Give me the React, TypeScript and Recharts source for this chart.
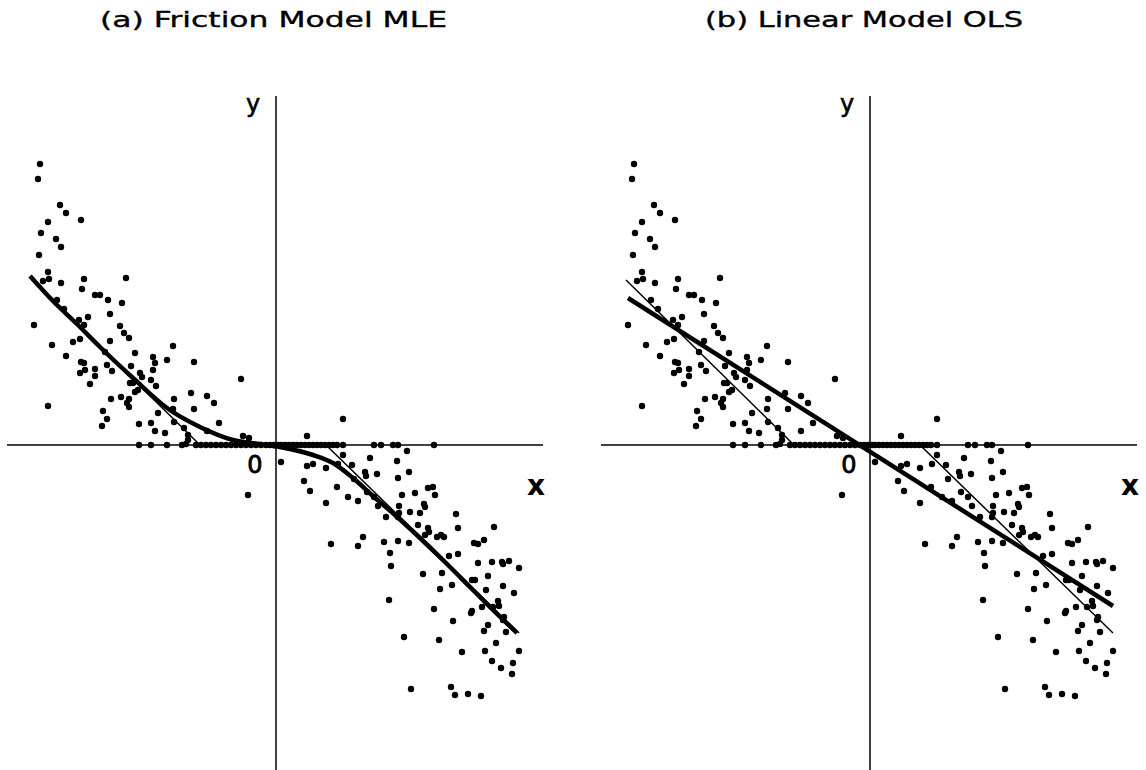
import React from 'react';
import {
  ComposedChart,
  Scatter,
  Line,
  XAxis,
  YAxis,
  ReferenceLine,
} from 'recharts';

const negPoints: [number, number][] = [
  [-2.36, 2.81], [-2.38, 2.66], [-2.16, 2.4], [-2.1, 2.32], [-2.28, 2.23],
  [-1.95, 2.25], [-2.35, 2.12], [-2.2, 2.06], [-2.15, 1.98], [-2.37, 1.9],
  [-2.28, 1.73], [-2.33, 1.64], [-2.27, 1.66], [-2.15, 1.62], [-1.92, 1.66],
  [-1.94, 1.56], [-1.5, 1.67], [-1.81, 1.5], [-1.76, 1.5], [-1.68, 1.45],
  [-1.54, 1.42], [-2.19, 1.45], [-2.12, 1.36], [-2.42, 1.2], [-1.97, 1.25],
  [-1.88, 1.28], [-1.92, 1.2], [-1.66, 1.31], [-1.56, 1.19], [-1.52, 1.12],
  [-1.47, 1.07], [-2.24, 1.0], [-2.03, 1.03], [-1.96, 1.06], [-2.1, 0.89],
  [-1.66, 1.04], [-1.71, 0.93], [-1.41, 0.92], [-1.03, 0.99], [-1.95, 0.83],
  [-1.92, 0.82], [-1.96, 0.72], [-1.91, 0.75], [-1.81, 0.76], [-1.81, 0.69],
  [-1.86, 0.61], [-1.69, 0.8], [-1.64, 0.74], [-1.45, 0.79], [-1.46, 0.62],
  [-1.43, 0.62], [-1.36, 0.72], [-1.34, 0.68], [-1.38, 0.55], [-1.41, 0.53],
  [-1.23, 0.88], [-1.21, 0.82], [-1.23, 0.75], [-1.09, 0.85], [-0.82, 0.83],
  [-1.25, 0.65], [-1.2, 0.59], [-0.35, 0.66], [-2.28, 0.39], [-1.65, 0.46],
  [-1.55, 0.48], [-1.47, 0.46], [-1.49, 0.42], [-1.47, 0.38], [-1.73, 0.34],
  [-1.69, 0.26], [-1.74, 0.19], [-1.37, 0.21], [-1.25, 0.22], [-1.21, 0.14],
  [-1.18, 0.32], [-1.11, 0.12], [-1.02, 0.46], [-1.03, 0.36], [-1.02, 0.23],
  [-0.85, 0.52], [-0.82, 0.36], [-0.69, 0.49], [-0.62, 0.42], [-0.57, 0.22],
  [-0.69, 0.14], [-0.92, 0.17], [-0.88, 0.1], [-0.88, 0.05], [-0.9, 0.01],
  [-0.33, 0.09], [-0.27, 0.07], [-0.28, -0.5],
];

// observations sitting exactly on y = 0
const zeroX: number[] = [
  -1.37, -1.25, -1.09, -0.94, -0.8, -0.75, -0.7, -0.65, -0.6, -0.55, -0.5,
  -0.45, -0.4, -0.35, -0.3, -0.25, -0.2, -0.15, -0.1, -0.06, -0.02,
  0.02, 0.05, 0.09, 0.13, 0.17, 0.21, 0.25, 0.29, 0.33, 0.37, 0.41, 0.45,
  0.49, 0.53, 0.57, 0.61, 0.67, 0.98, 1.05, 1.17, 1.22, 1.58,
];

const posPoints: [number, number][] = [
  [0.67, 0.26], [0.31, 0.09], [0.05, -0.17], [0.67, -0.1], [0.62, -0.19],
  [0.76, -0.2], [0.31, -0.21], [0.37, -0.19], [0.5, -0.23], [0.89, -0.27],
  [0.9, -0.31], [0.94, -0.13], [1.01, -0.29], [0.78, -0.34], [1.31, -0.06],
  [1.21, -0.16], [1.33, -0.27], [1.22, -0.33], [0.28, -0.36], [0.34, -0.46],
  [0.61, -0.42], [0.91, -0.47], [0.98, -0.52], [0.72, -0.52], [0.82, -0.56],
  [0.5, -0.58], [1.02, -0.61], [1.26, -0.5], [1.39, -0.48], [1.52, -0.43],
  [1.57, -0.42], [1.59, -0.5], [1.48, -0.59], [1.49, -0.62], [1.23, -0.61],
  [1.23, -0.68], [1.22, -0.72], [1.34, -0.67], [1.44, -0.68], [1.1, -0.72],
  [1.42, -0.8], [1.52, -0.83], [1.53, -0.87], [1.49, -0.9], [1.61, -0.92],
  [1.65, -0.9], [1.68, -0.92], [1.8, -0.69], [1.82, -0.83], [2.18, -0.82],
  [0.87, -0.92], [0.82, -1.01], [0.55, -0.99], [1.08, -0.97], [1.22, -0.96],
  [1.33, -0.98], [1.14, -1.08], [1.15, -1.21], [1.73, -1.11], [1.82, -1.09],
  [1.98, -0.98], [2.02, -0.99], [2.08, -0.95], [1.47, -1.29], [1.66, -1.28],
  [1.76, -1.4], [1.64, -1.44], [2.02, -1.18], [2.16, -1.17], [2.26, -1.17],
  [2.27, -1.19], [2.33, -1.16], [2.43, -1.23], [2.12, -1.31], [1.96, -1.35],
  [1.99, -1.35], [2.1, -1.45], [2.27, -1.41], [2.38, -1.48], [2.22, -1.56],
  [2.23, -1.61], [2.06, -1.62], [2.17, -1.62], [1.96, -1.66], [1.95, -1.68],
  [1.58, -1.64], [1.13, -1.55], [1.77, -1.76], [2.28, -1.72], [2.27, -1.75],
  [2.12, -1.8], [2.08, -1.86], [2.3, -1.87], [1.28, -1.92], [1.63, -1.95],
  [2.2, -1.98], [1.86, -2.07], [2.09, -2.06], [2.43, -2.06], [2.16, -2.16],
  [2.25, -2.23], [2.37, -2.18], [2.36, -2.29], [1.35, -2.44], [1.75, -2.42],
  [1.79, -2.5], [1.92, -2.49], [2.05, -2.51],
];

// fitted friction model (thick, panel a)
const mleCurve: [number, number][] = [
  [-2.46, 1.69], [-2.23, 1.44], [-1.99, 1.21], [-1.76, 0.98], [-1.43, 0.67],
  [-1.09, 0.37], [-0.76, 0.18], [-0.43, 0.05], [-0.16, 0.01], [0.04, -0.02],
  [0.37, -0.1], [0.57, -0.18], [0.77, -0.33], [0.97, -0.51], [1.19, -0.7],
  [1.44, -0.93], [1.71, -1.19], [1.94, -1.42], [2.17, -1.65], [2.41, -1.88],
];

// true friction lines (thin, both panels)
const trueLeft: [number, number][] = [[-2.44, 1.65], [-0.76, 0]];
const trueRight: [number, number][] = [[0.5, 0], [2.43, -1.88]];

// OLS fit (thick, panel b)
const olsLine: [number, number][] = [[-2.42, 1.47], [2.43, -1.61]];

const toRows = (pts: [number, number][]) => pts.map(([x, y]) => ({ x, y }));

const points = [
  ...toRows(negPoints),
  ...zeroX.map((x) => ({ x, y: 0 })),
  ...toRows(posPoints),
];

const renderDot = (props: any) => (
  <circle cx={props.cx} cy={props.cy} r={3.2} fill="#000" />
);

const XDOMAIN: [number, number] = [-2.69, 2.67];
const YDOMAIN: [number, number] = [-3.25, 3.49];

interface PanelProps {
  left: number;
  width: number;
  rightMargin: number;
  fit: [number, number][];
  curved: boolean;
}

const Panel: React.FC<PanelProps> = ({ left, width, rightMargin, fit, curved }) => (
  <div style={{ position: 'absolute', left, top: 0 }}>
    <ComposedChart
      width={width}
      height={770}
      margin={{ top: 96, right: rightMargin, bottom: 0, left: 7 }}
    >
      <XAxis type="number" dataKey="x" domain={XDOMAIN} hide allowDataOverflow />
      <YAxis type="number" dataKey="y" domain={YDOMAIN} hide allowDataOverflow />
      <ReferenceLine y={0} stroke="#000" strokeWidth={1.5} />
      <ReferenceLine x={0} stroke="#000" strokeWidth={1.5} />
      <Line
        data={toRows(trueLeft)}
        dataKey="y"
        type="linear"
        stroke="#000"
        strokeWidth={1.5}
        dot={false}
        isAnimationActive={false}
      />
      <Line
        data={toRows(trueRight)}
        dataKey="y"
        type="linear"
        stroke="#000"
        strokeWidth={1.5}
        dot={false}
        isAnimationActive={false}
      />
      <Scatter data={points} shape={renderDot} isAnimationActive={false} />
      <Line
        data={toRows(fit)}
        dataKey="y"
        type={curved ? 'monotone' : 'linear'}
        stroke="#000"
        strokeWidth={4.5}
        dot={false}
        isAnimationActive={false}
      />
    </ComposedChart>
  </div>
);

const textStyle = { fontFamily: 'DejaVu Sans', fill: '#000', stroke: '#000' };

export default function App() {
  return (
    <div
      style={{
        position: 'absolute',
        left: 0,
        top: 0,
        width: 1146,
        height: 770,
        background: '#fff',
        overflow: 'hidden',
      }}
    >
      <Panel left={0} width={573} rightMargin={30} fit={mleCurve} curved />
      <Panel left={594} width={552} rightMargin={9} fit={olsLine} curved={false} />
      <svg
        width={1146}
        height={770}
        style={{ position: 'absolute', left: 0, top: 0, pointerEvents: 'none' }}
      >
        <text
          x={100}
          y={27}
          fontSize={21}
          textLength={347}
          lengthAdjust="spacingAndGlyphs"
          strokeWidth={0.35}
          style={textStyle}
        >
          (a) Friction Model MLE
        </text>
        <text
          x={705}
          y={27}
          fontSize={21}
          textLength={318}
          lengthAdjust="spacingAndGlyphs"
          strokeWidth={0.35}
          style={textStyle}
        >
          (b) Linear Model OLS
        </text>
        {[0, 594].map((dx) => (
          <g key={dx}>
            <text x={253 + dx} y={112} textAnchor="middle" fontSize={24} strokeWidth={0.6} style={textStyle}>
              y
            </text>
            <text x={536 + dx} y={495} textAnchor="middle" fontSize={28} fontWeight="bold" strokeWidth={0} style={textStyle}>
              x
            </text>
            <text x={255 + dx} y={473} textAnchor="middle" fontSize={24} strokeWidth={0.8} style={textStyle}>
              0
            </text>
          </g>
        ))}
      </svg>
    </div>
  );
}
